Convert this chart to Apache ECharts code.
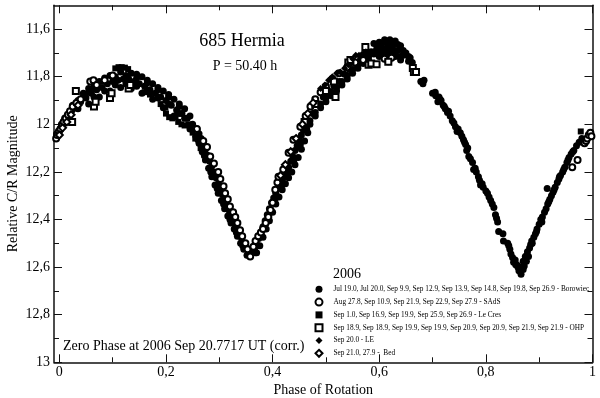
<!DOCTYPE html>
<html><head><meta charset="utf-8">
<script src="https://cdn.jsdelivr.net/npm/echarts@6/dist/echarts.min.js"></script>
<style>html,body{margin:0;padding:0;background:#fff}#c{width:600px;height:398px}</style>
</head><body><div id="c"></div>
<script>
// ---- data: [phase, magnitude] ----
const borowiec = [
[-0.005,12.04],[0.004,12.0],[0.01,11.975],[0.018,11.955],[0.024,11.94],
[0.03,11.93],[0.04,11.905],[0.05,11.89],[0.06,11.87],[0.07,11.855],[0.08,11.845],[0.09,11.83],[0.1,11.82],[0.11,11.815],[0.12,11.81],[0.13,11.81],[0.14,11.82],[0.15,11.83],[0.16,11.84],[0.17,11.855],[0.18,11.87],[0.19,11.885],[0.2,11.9],[0.21,11.92],[0.22,11.94],[0.23,11.955],[0.24,11.975],[0.25,12.0],
[0.045,11.87],[0.055,11.85],[0.065,11.835],[0.075,11.82],[0.085,11.805],[0.095,11.795],[0.115,11.78],[0.135,11.785],[0.145,11.79],[0.155,11.8],[0.165,11.815],[0.175,11.83],[0.185,11.845],[0.195,11.86],[0.205,11.875],[0.215,11.895],[0.225,11.915],[0.235,11.935],
[0.055,11.915],[0.075,11.885],[0.095,11.86],[0.115,11.845],[0.135,11.85],[0.155,11.87],[0.175,11.895],[0.195,11.93],[0.215,11.965],[0.245,12.02],
[0.025,11.92],[0.035,11.9],[0.045,11.885],[0.055,11.865],[0.065,11.85],[0.085,11.82],[0.105,11.8],[0.125,11.795],[0.145,11.805],[0.165,11.825],[0.185,11.855],[0.205,11.885],[0.225,11.925],[0.245,11.965],
[0.035,11.935],[0.065,11.885],[0.085,11.86],[0.105,11.835],[0.125,11.83],[0.145,11.84],[0.165,11.86],[0.185,11.89],[0.205,11.915],[0.225,11.955],[0.235,11.975],
[0.258,12.02],[0.262,12.04],[0.266,12.06],[0.27,12.08],[0.274,12.105],[0.278,12.13],[0.282,12.155],[0.286,12.175],[0.29,12.2],[0.294,12.225],[0.298,12.25],[0.302,12.275],[0.306,12.295],[0.31,12.32],[0.314,12.34],[0.318,12.36],[0.322,12.385],[0.326,12.4],[0.33,12.42],[0.334,12.44],[0.338,12.46],[0.342,12.48],[0.346,12.5],[0.35,12.515],[0.354,12.53],[0.358,12.545],
[0.256,12.05],[0.262,12.08],[0.268,12.115],[0.274,12.15],[0.28,12.185],[0.286,12.22],[0.292,12.255],[0.298,12.29],[0.304,12.32],[0.31,12.355],[0.316,12.385],[0.322,12.415],[0.328,12.44],[0.334,12.47],[0.34,12.5],[0.346,12.525],[0.352,12.55],
[0.26,12.065],[0.272,12.13],[0.284,12.2],[0.296,12.27],[0.308,12.335],[0.32,12.4],[0.332,12.455],[0.344,12.51],[0.356,12.55],
[0.362,12.54],[0.366,12.525],[0.37,12.505],[0.374,12.48],[0.378,12.455],[0.382,12.43],[0.386,12.405],[0.39,12.38],[0.394,12.355],[0.398,12.33],[0.402,12.31],[0.406,12.29],[0.41,12.27],[0.414,12.25],[0.418,12.235],[0.422,12.22],[0.426,12.2],[0.43,12.18],[0.434,12.155],[0.438,12.135],[0.442,12.11],[0.446,12.09],[0.45,12.065],[0.454,12.045],[0.458,12.025],
[0.37,12.54],[0.376,12.51],[0.382,12.475],[0.388,12.44],[0.394,12.405],[0.4,12.37],[0.406,12.335],[0.412,12.305],[0.418,12.275],[0.424,12.25],[0.43,12.225],[0.436,12.2],[0.442,12.17],[0.448,12.14],[0.454,12.105],[0.46,12.07],[0.466,12.035],
[0.368,12.54],[0.38,12.47],[0.392,12.39],[0.404,12.32],[0.416,12.26],[0.428,12.21],[0.44,12.15],[0.452,12.085],[0.464,12.02],
[0.465,11.995],[0.475,11.955],[0.485,11.915],[0.495,11.885],[0.505,11.86],[0.515,11.84],[0.525,11.82],[0.535,11.79],[0.545,11.77],[0.555,11.745],[0.565,11.725],[0.575,11.705],[0.585,11.695],[0.595,11.685],[0.605,11.68],[0.615,11.68],[0.625,11.68],[0.635,11.69],[0.645,11.71],[0.655,11.735],
[0.59,11.66],[0.6,11.655],[0.61,11.645],[0.62,11.645],[0.63,11.65],[0.64,11.67],[0.65,11.7],
[0.595,11.665],[0.605,11.66],[0.615,11.66],[0.625,11.66],[0.635,11.665],[0.645,11.69],[0.655,11.715],
[0.47,12.0],[0.48,11.965],[0.49,11.93],[0.5,11.905],[0.51,11.88],[0.52,11.86],[0.53,11.835],[0.54,11.81],[0.55,11.785],[0.56,11.765],[0.57,11.745],[0.58,11.73],[0.6,11.715],[0.61,11.71],[0.62,11.71],[0.63,11.715],[0.64,11.73],
[0.47,11.985],[0.48,11.95],[0.49,11.915],[0.5,11.89],[0.51,11.865],[0.52,11.845],[0.53,11.82],[0.54,11.795],[0.55,11.77],[0.56,11.75],[0.57,11.73],[0.58,11.715],[0.59,11.705],[0.6,11.7],[0.61,11.695],[0.62,11.695],[0.63,11.7],[0.64,11.715],
[0.658,11.72],[0.662,11.74],
[0.678,11.82],[0.682,11.83],[0.684,11.815],[0.7,11.87],[0.706,11.88],[0.712,11.885],[0.716,11.9],[0.71,11.905],[0.72,11.92],[0.724,11.935],[0.73,11.945],[0.737,11.985],[0.743,12.01],[0.748,12.02],[0.752,12.035],[0.758,12.065],[0.762,12.085],[0.766,12.1],[0.768,12.135],[0.775,12.16],[0.777,12.19],[0.782,12.2],[0.786,12.22],[0.79,12.255],[0.795,12.265],[0.803,12.29],[0.809,12.32],[0.815,12.35],[0.818,12.38],[0.822,12.41],[0.824,12.45],[0.832,12.46],[0.833,12.49],
[0.705,11.865],[0.714,11.895],[0.722,11.925],[0.728,11.95],[0.733,11.965],[0.74,11.995],[0.746,12.03],[0.755,12.05],[0.76,12.075],[0.764,12.11],[0.771,12.145],[0.78,12.185],[0.788,12.235],[0.793,12.25],[0.8,12.28],[0.806,12.305],[0.812,12.335],[0.82,12.395],
[0.841,12.5],[0.845,12.525],[0.847,12.545],[0.85,12.56],[0.852,12.58],[0.855,12.57],[0.858,12.59],[0.86,12.6],[0.862,12.615],[0.866,12.63],[0.868,12.6],[0.87,12.575],[0.872,12.595],[0.874,12.555],[0.876,12.575],[0.878,12.535],[0.88,12.555],[0.882,12.52],[0.884,12.505],[0.886,12.49],
[0.843,12.51],[0.856,12.59],[0.864,12.6],[0.87,12.61],[0.877,12.55],[0.887,12.5],
[0.89,12.475],[0.893,12.46],[0.896,12.44],[0.9,12.42],[0.903,12.4],[0.906,12.39],[0.91,12.37],[0.913,12.355],[0.916,12.335],[0.915,12.27],[0.92,12.315],[0.923,12.3],[0.926,12.285],[0.93,12.265],[0.934,12.245],[0.937,12.23],[0.94,12.215],[0.944,12.2],[0.948,12.18],[0.952,12.16],[0.956,12.14],[0.96,12.125],[0.965,12.11],[0.97,12.09],[0.975,12.075],[0.98,12.06],
[0.895,12.45],[0.905,12.41],[0.918,12.325],[0.928,12.275],[0.938,12.22],[0.946,12.19],[0.954,12.15],[0.963,12.115]
];
const sads = [
[-0.006,12.06],[-0.004,12.045],[-0.001,12.03],[0.002,12.02],[0.005,12.005],[0.008,11.99],[0.012,11.975],[0.016,11.96],[0.02,11.945],[0.025,11.925],[0.032,11.91],[0.04,11.895],[0.058,11.82],[0.064,11.815],[0.07,11.835],[0.085,11.815],[0.1,11.795],
[0.258,12.02],[0.27,12.07],[0.277,12.095],[0.283,12.135],[0.29,12.165],[0.298,12.2],[0.302,12.23],[0.308,12.26],[0.311,12.29],[0.316,12.315],[0.32,12.345],[0.326,12.37],[0.33,12.39],[0.334,12.415],[0.339,12.445],[0.343,12.47],[0.349,12.5],[0.353,12.525],[0.358,12.555],
[0.364,12.515],[0.368,12.49],[0.373,12.47],[0.378,12.455],[0.382,12.44],[0.387,12.415],[0.392,12.39],[0.396,12.36],[0.4,12.33],[0.405,12.275],[0.409,12.245],[0.411,12.22],[0.42,12.19],[0.43,12.12],[0.439,12.065],[0.452,12.01],[0.462,11.965],[0.471,11.925],[0.48,11.895],[0.49,11.865],[0.5,11.84],[0.512,11.81],[0.525,11.785],[0.54,11.76],[0.555,11.74],[0.57,11.73],[0.61,11.725],[0.617,11.735],[0.623,11.72],
[0.962,12.18],[0.972,12.15],[0.985,12.08],[0.988,12.07],[0.99,12.06],[0.993,12.045],[0.996,12.035],[0.998,12.05]
];
const leCres = [
[0.105,11.765],[0.111,11.76],[0.117,11.76],[0.123,11.762],[0.129,11.768],[0.145,11.835],[0.16,11.865],[0.165,11.86],[0.17,11.875],[0.185,11.885],[0.19,11.915],[0.199,11.93],[0.2,11.955],[0.206,11.97],[0.212,11.975],[0.218,11.97],[0.223,11.99],[0.229,12.0],[0.235,12.005],[0.242,12.0],[0.25,12.035],[0.255,12.06],[0.265,12.1],[0.272,12.13],[0.978,12.03]
];
const ohp = [
[0.024,11.99],[0.031,11.86],[0.065,11.925],[0.068,11.905],[0.095,11.89],[0.098,11.87],[0.13,11.85],[0.133,11.835],
[0.46,11.99],[0.48,11.915],[0.5,11.86],[0.515,11.82],[0.518,11.885],[0.542,11.74],[0.546,11.73],[0.574,11.675],[0.58,11.75],[0.585,11.745],[0.595,11.748],[0.617,11.737],[0.663,11.763],[0.665,11.78],[0.669,11.78]
];
const le = [
[0.49,11.85],[0.498,11.835],[0.505,11.815],[0.512,11.8],[0.52,11.785],[0.527,11.78],[0.535,11.765],[0.542,11.75],[0.55,11.725],[0.556,11.71],[0.562,11.71],[0.568,11.705],[0.575,11.695]
];
const bed = [
[0.0,12.045],[0.006,12.015],[0.014,11.99],[0.022,11.96],[0.035,11.92],[0.415,12.215],[0.424,12.17],[0.434,12.115],[0.444,12.06],[0.456,12.0],[0.466,11.955],[0.476,11.91]
];
const seriesNames = [
'Jul 19.0, Jul 20.0, Sep 9.9, Sep 12.9, Sep 13.9, Sep 14.8, Sep 19.8, Sep 26.9 - Borowiec',
'Aug 27.8, Sep 10.9, Sep 21.9, Sep 22.9, Sep 27.9 - SAdS',
'Sep 1.0, Sep 16.9, Sep 19.9, Sep 25.9, Sep 26.9 - Le Cres',
'Sep 18.9, Sep 18.9, Sep 19.9, Sep 19.9, Sep 20.9, Sep 20.9, Sep 21.9, Sep 21.9 - OHP',
'Sep 20.0 - LE',
'Sep 21.0, 27.9 -  Bed'
];
const xMajor = [0, 0.2, 0.4, 0.6, 0.8, 1];
const xMinor = [0.1, 0.3, 0.5, 0.7, 0.9];
const yMajor = [11.6, 11.8, 12, 12.2, 12.4, 12.6, 12.8, 13];
const yMinor = [11.7, 11.9, 12.1, 12.3, 12.5, 12.7, 12.9];

const serif = '"Liberation Serif", "Times New Roman", serif';
const fmt = v => String(Math.round(v * 10) / 10).replace('.', ',');
const lineCol = '#111';
const XMIN = -0.01, XMAX = 1.0, YMIN = 11.5, YMAX = 13;

function xAx(pos, ticks, len, withLine, withLabel) {
  const a = {type:'value', min:XMIN, max:XMAX, position:pos,
    axisLine:{show:withLine, onZero:false, lineStyle:{color:lineCol, width:1.5}},
    axisTick:{show:true, inside:true, length:len, customValues:ticks, lineStyle:{color:lineCol, width:1}},
    axisLabel:{show:withLabel, customValues:ticks, formatter:fmt, margin:3, color:'#000', fontFamily:serif, fontSize:14},
    splitLine:{show:false}};
  if (withLabel) { a.name = 'Phase of Rotation'; a.nameLocation = 'middle'; a.nameGap = 21; a.nameMoveOverlap = false;
    a.nameTextStyle = {color:'#000', fontFamily:serif, fontSize:14}; }
  return a;
}
function yAx(pos, ticks, len, withLine, withLabel) {
  const a = {type:'value', min:YMIN, max:YMAX, inverse:true, position:pos,
    axisLine:{show:withLine, onZero:false, lineStyle:{color:lineCol, width:1.5}},
    axisTick:{show:true, inside:true, length:len, customValues:ticks, lineStyle:{color:lineCol, width:1}},
    axisLabel:{show:withLabel, customValues:ticks, formatter:fmt, margin:4, color:'#000', fontFamily:serif, fontSize:14},
    splitLine:{show:false}};
  if (withLabel) { a.name = 'Relative C/R Magnitude'; a.nameLocation = 'middle'; a.nameGap = 34; a.nameMoveOverlap = false;
    a.nameTextStyle = {color:'#000', fontFamily:serif, fontSize:14}; }
  return a;
}

const sym = [
  {symbol:'circle', size:7},
  {symbol:'emptyCircle', size:6},
  {symbol:'rect', size:6},
  {symbol:'emptyRect', size:6},
  {symbol:'diamond', size:7},
  {symbol:'emptyDiamond', size:7}
];
const datasets = [borowiec, sads, leCres, ohp, le, bed];

const chart = echarts.init(document.getElementById('c'), null, {renderer:'canvas'});
chart.setOption({
  animation:false,
  backgroundColor:'#fff',
  grid:{left:54, right:7.5, top:5.3, bottom:35.7, containLabel:false, outerBoundsMode:'none'},
  xAxis:[xAx('bottom', xMajor, 8, true, true), xAx('bottom', xMinor, 5, false, false),
         xAx('top', xMajor, 8, true, false), xAx('top', xMinor, 5, false, false)],
  yAxis:[yAx('left', yMajor, 8, true, true), yAx('left', yMinor, 5, false, false),
         yAx('right', yMajor, 8, true, false), yAx('right', yMinor, 5, false, false)],
  legend:{orient:'vertical', left:314.5, top:285.8, itemWidth:7, itemHeight:7, itemGap:4.8, padding:0,
    symbolKeepAspect:true,
    textStyle:{fontFamily:serif, fontSize:7.3, color:'#000', lineHeight:6, padding:[0,0,0,6]}, data:seriesNames},
  graphic:[
    {type:'text', x:242, y:41, style:{text:'685 Hermia', fontFamily:serif, fontSize:18, fill:'#000', align:'center', verticalAlign:'middle'}},
    {type:'text', x:245, y:66, style:{text:'P = 50.40 h', fontFamily:serif, fontSize:14, fill:'#000', align:'center', verticalAlign:'middle'}},
    {type:'text', x:63, y:346, style:{text:'Zero Phase at 2006 Sep 20.7717 UT (corr.)', fontFamily:serif, fontSize:14, fill:'#000', align:'left', verticalAlign:'middle'}},
    {type:'text', x:333, y:274, style:{text:'2006', fontFamily:serif, fontSize:14, fill:'#000', align:'left', verticalAlign:'middle'}}
  ],
  series: datasets.map((d, i) => ({
    name: seriesNames[i], type:'scatter', xAxisIndex:0, yAxisIndex:0,
    symbol: sym[i].symbol, symbolSize: sym[i].size,
    itemStyle:{color:'#000', borderColor:'#000', borderWidth: sym[i].symbol.indexOf('empty') === 0 ? 1 : 0, opacity:1},
    emphasis:{disabled:true},
    data: d
  }))
});
</script></body></html>
